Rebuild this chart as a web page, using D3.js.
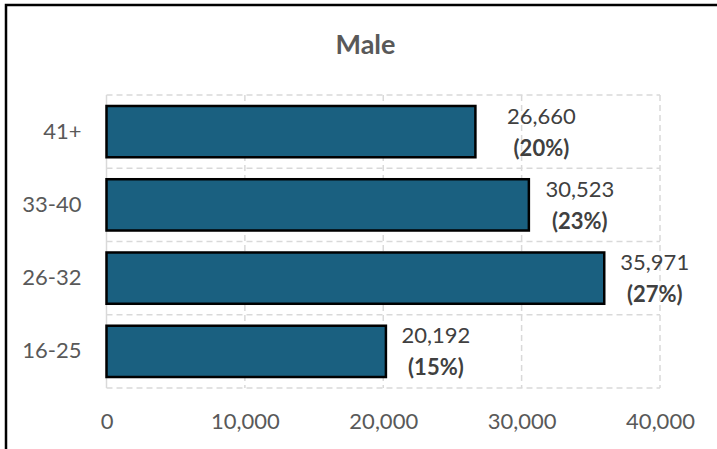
<!DOCTYPE html>
<html>
<head>
<meta charset="utf-8">
<script src="https://cdn.jsdelivr.net/npm/d3@7"></script>
<style>
  html, body { margin: 0; padding: 0; background: #fff; }
  svg { display: block; }
</style>
</head>
<body>
<script>
// ---- data ----
const title = "Male";
const categories = ["41+", "33-40", "26-32", "16-25"];
const counts = [26660, 30523, 35971, 20192];
const shares = [20, 23, 27, 15];
const xTicks = [0, 10000, 20000, 30000, 40000];
// label centre offset from bar end (label placement in source)
const labelDx = [66, 51, 50.5, 50];

const W = 717, H = 449;
const svg = d3.select("body").append("svg").attr("width", W).attr("height", H);
const FONT = "Lato, 'Open Sans', sans-serif";

// outer frame (runs past the window on right/bottom)
svg.append("rect").attr("x", 6).attr("y", 5).attr("width", 760).attr("height", 500)
  .attr("fill", "#fff").attr("stroke", "#000").attr("stroke-width", 2.5);

const x = d3.scaleLinear().domain([0, 40000]).range([106.5, 660]);
const y = d3.scaleBand().domain(categories).range([95, 388]).paddingInner(0.3).paddingOuter(0.15);
const step = y.step();
const top0 = 95, bot0 = 388;

const grid = svg.append("g");
// horizontal dashed gridlines at band boundaries
d3.range(categories.length + 1).forEach(i => {
  const yy = top0 + i * step;
  grid.append("line").attr("x1", x(0)).attr("x2", x(40000)).attr("y1", yy).attr("y2", yy)
    .attr("stroke", "#d9d9d9").attr("stroke-width", 1.5).attr("stroke-dasharray", "6,4");
});
// vertical dashed gridlines
xTicks.filter(d => d > 0).forEach(d => {
  grid.append("line").attr("x1", x(d)).attr("x2", x(d)).attr("y1", top0).attr("y2", bot0)
    .attr("stroke", "#d9d9d9").attr("stroke-width", 1.5).attr("stroke-dasharray", "6,4");
});
// left axis line
grid.append("line").attr("x1", x(0)).attr("x2", x(0)).attr("y1", top0).attr("y2", bot0)
  .attr("stroke", "#d9d9d9").attr("stroke-width", 1.5);

// bars
svg.append("g").selectAll("rect").data(categories).join("rect")
  .attr("x", x(0))
  .attr("y", d => y(d))
  .attr("width", (d, i) => x(counts[i]) - x(0))
  .attr("height", y.bandwidth())
  .attr("fill", "#1A6080")
  .attr("stroke", "#000")
  .attr("stroke-width", 2.5);

// data labels
const lab = svg.append("g").attr("font-family", FONT).attr("text-anchor", "middle");
categories.forEach((c, i) => {
  const cx = x(counts[i]) + labelDx[i];
  const cy = y(c) + y.bandwidth() / 2;
  lab.append("text").attr("x", cx).attr("y", cy - 16).attr("dy", "0.36em")
    .attr("font-size", 22).attr("fill", "#404040").text(d3.format(",")(counts[i]));
  lab.append("text").attr("x", cx).attr("y", cy + 16).attr("dy", "0.36em")
    .attr("font-size", 22).attr("font-weight", "bold").attr("fill", "#404040").text("(" + shares[i] + "%)");
});

// y axis (category labels)
const yAxis = svg.append("g").attr("transform", `translate(${x(0)},0)`)
  .call(d3.axisLeft(y).tickSize(0).tickPadding(25));
yAxis.select(".domain").remove();
yAxis.selectAll("text").attr("font-family", FONT).attr("font-size", 22).attr("fill", "#595959");

// x axis
const xAxis = svg.append("g").attr("transform", `translate(0,${bot0})`)
  .call(d3.axisBottom(x).tickValues(xTicks).tickFormat(d3.format(",")).tickSize(0).tickPadding(25));
xAxis.select(".domain").remove();
xAxis.selectAll("text").attr("font-family", FONT).attr("font-size", 22).attr("fill", "#595959");

// title
svg.append("text").attr("x", 365.5).attr("y", 54).attr("text-anchor", "middle")
  .attr("font-family", FONT).attr("font-size", 27).attr("font-weight", "bold")
  .attr("fill", "#595959").text(title);
</script>
</body>
</html>
